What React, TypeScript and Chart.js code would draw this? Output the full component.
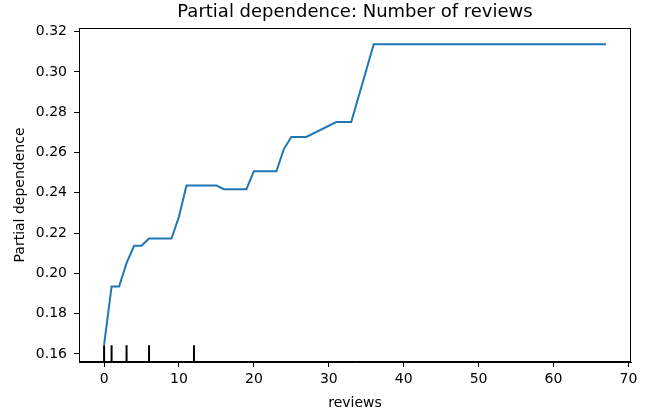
import React, { useEffect, useRef } from "react";
import { Chart, registerables } from "chart.js";

Chart.register(...registerables);

const reviewsGrid = [0, 1, 2, 3, 4, 5, 6, 9, 10, 11, 15, 16, 19, 20, 23, 24, 25, 27, 31, 33, 36, 67];
const partialDependence = [
  0.1645, 0.1935, 0.1935, 0.2051, 0.2137, 0.2137, 0.2173, 0.2173, 0.2282, 0.2436, 0.2436,
  0.2418, 0.2418, 0.2507, 0.2507, 0.2617, 0.2677, 0.2677, 0.2751, 0.2751, 0.3137, 0.3137,
];
const deciles = [0, 1, 3, 6, 12];
const xTicks = [0, 10, 20, 30, 40, 50, 60, 70];
const yTicks = [0.16, 0.18, 0.2, 0.22, 0.24, 0.26, 0.28, 0.3, 0.32];

const X_MIN = -3.35;
const X_MAX = 70.35;
const Y_MIN = 0.156;
const Y_MAX = 0.3218;

const FONT = "'DejaVu Sans', sans-serif";

export default function App() {
  const ref = useRef<HTMLCanvasElement | null>(null);

  useEffect(() => {
    if (!ref.current) return;
    const decileTop = Y_MIN + 0.05 * (Y_MAX - Y_MIN);
    const decileData: any[] = [];
    deciles.forEach((d, i) => {
      if (i > 0) decileData.push({ x: d, y: null });
      decileData.push({ x: d, y: Y_MIN });
      decileData.push({ x: d, y: decileTop });
    });

    const framePlugin = {
      id: "frame",
      afterDraw(chart: any) {
        const { ctx, chartArea } = chart;
        ctx.save();
        ctx.strokeStyle = "#000";
        ctx.lineWidth = 1;
        ctx.strokeRect(
          Math.round(chartArea.left) + 0.5,
          Math.round(chartArea.top) + 0.5,
          Math.round(chartArea.right - chartArea.left) - 1,
          Math.round(chartArea.bottom - chartArea.top) - 1
        );
        ctx.restore();
      },
    };

    const chart = new Chart(ref.current, {
      type: "line",
      data: {
        datasets: [
          {
            data: reviewsGrid.map((x, i) => ({ x, y: partialDependence[i] })),
            borderColor: "#1f77b4",
            borderWidth: 2,
            pointRadius: 0,
            tension: 0,
            fill: false,
          },
          {
            data: decileData,
            borderColor: "#000",
            borderWidth: 2,
            pointRadius: 0,
            spanGaps: false,
            fill: false,
          },
        ],
      },
      options: {
        animation: false,
        responsive: false,
        layout: { padding: { left: 0, right: 21, top: 0, bottom: 0 } },
        plugins: {
          legend: { display: false },
          tooltip: { enabled: false },
          title: {
            display: true,
            fullSize: false,
            text: "Partial dependence: Number of reviews",
            color: "#000",
            font: { family: FONT, size: 18, weight: "normal" as any, lineHeight: 1.2 },
            padding: { top: 2, bottom: 4.4 },
          },
        },
        scales: {
          x: {
            type: "linear",
            min: X_MIN,
            max: X_MAX,
            afterBuildTicks: (scale: any) => {
              scale.ticks = xTicks.map((v) => ({ value: v }));
            },
            afterFit: (scale: any) => {
              scale.height = 53;
            },
            ticks: {
              color: "#000",
              font: { family: FONT, size: 14 },
              padding: 4,
              maxRotation: 0,
              autoSkip: false,
              callback: (v: any) => String(v),
            },
            grid: {
              display: true,
              drawOnChartArea: false,
              drawTicks: true,
              tickLength: 5,
              color: "#000",
              tickWidth: 1,
            },
            border: { display: true, color: "#000", width: 1 },
            title: {
              display: true,
              text: "reviews",
              color: "#000",
              font: { family: FONT, size: 14, lineHeight: 1.2 },
              padding: { top: 0, bottom: 3 },
            },
          },
          y: {
            type: "linear",
            min: Y_MIN,
            max: Y_MAX,
            afterBuildTicks: (scale: any) => {
              scale.ticks = yTicks.map((v) => ({ value: v }));
            },
            afterFit: (scale: any) => {
              scale.width = 79;
            },
            ticks: {
              color: "#000",
              font: { family: FONT, size: 14 },
              padding: 7,
              autoSkip: false,
              callback: (v: any) => Number(v).toFixed(2),
            },
            grid: {
              display: true,
              drawOnChartArea: false,
              drawTicks: true,
              tickLength: 5,
              color: "#000",
              tickWidth: 1,
            },
            border: { display: true, color: "#000", width: 1 },
            title: {
              display: true,
              text: "Partial dependence",
              color: "#000",
              font: { family: FONT, size: 14, lineHeight: 1.2 },
              padding: { top: 12, bottom: 0 },
            },
          },
        },
      },
      plugins: [framePlugin],
    } as any);

    return () => chart.destroy();
  }, []);

  return (
    <div style={{ position: "fixed", left: 0, top: 0, width: 652, height: 415, background: "#fff" }}>
      <canvas ref={ref} width={652} height={415} style={{ width: 652, height: 415, display: "block" }} />
    </div>
  );
}
